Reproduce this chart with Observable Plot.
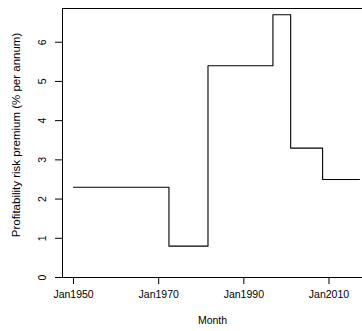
<!DOCTYPE html>
<html>
<head>
<meta charset="utf-8">
<script src="https://cdn.jsdelivr.net/npm/d3@7"></script>
<script src="https://cdn.jsdelivr.net/npm/@observablehq/plot@0.6"></script>
<style>
  html, body { margin: 0; padding: 0; background: #fff; }
  #chart svg { display: block; }
</style>
</head>
<body>
<div id="chart"></div>
<script>
// Data: regime start months and profitability risk premium (% per annum); last entry = end of series
const months = ["1950-01", "1972-06", "1981-08", "1996-11", "2001-01", "2008-07", "2017-03"];
const premium = [2.3, 0.8, 5.4, 6.7, 3.3, 2.5, 2.5];
const xTickMonths = ["1950-01", "1970-01", "1990-01", "2010-01"];
const xTickLabels = ["Jan1950", "Jan1970", "Jan1990", "Jan2010"];
const yTicks = [0, 1, 2, 3, 4, 5, 6];
const xLabel = "Month";
const yLabel = "Profitability risk premium (% per annum)";

const parse = d3.utcParse("%Y-%m");
const data = months.map((m, i) => ({date: parse(m), value: premium[i]}));
const xTicks = xTickMonths.map(parse);

const xDomain = [new Date(Date.UTC(1947, 5, 1)), new Date(Date.UTC(2017, 10, 14))];
const yDomain = [0, 6.86];
const font = "Liberation Sans, Arial, Helvetica, sans-serif";

const chart = Plot.plot({
  width: 362,
  height: 331,
  marginLeft: 62,
  marginRight: 0,
  marginTop: 8,
  marginBottom: 54,
  style: {fontFamily: font, fontSize: "10.5px", background: "#fff", color: "#000"},
  x: {type: "utc", domain: xDomain, axis: null},
  y: {domain: yDomain, axis: null},
  marks: [
    // box (top, left, bottom)
    Plot.ruleY([yDomain[1]], {stroke: "#000", strokeWidth: 1}),
    Plot.ruleY([yDomain[0]], {stroke: "#000", strokeWidth: 1}),
    Plot.ruleX([xDomain[0]], {stroke: "#000", strokeWidth: 1}),
    // x axis ticks & labels
    Plot.axisX({ticks: xTicks, tickSize: 7, tickPadding: 6,
      tickFormat: (d) => xTickLabels[xTicks.findIndex(t => +t === +d)],
      label: null, fontSize: 10.5, stroke: "#000"}),
    Plot.text([xLabel], {frameAnchor: "bottom", dy: 46, text: d => d, fontSize: 10.5, fill: "#000"}),
    // y axis ticks & labels
    Plot.axisY({ticks: yTicks, tickSize: 7, tickFormat: () => "", label: null, stroke: "#000"}),
    Plot.text(yTicks, {y: d => d, frameAnchor: "left", dx: -20, rotate: -90,
      text: d => String(d), textAnchor: "middle", lineAnchor: "middle", fontSize: 10.5, fill: "#000"}),
    Plot.text([yLabel], {frameAnchor: "left", dx: -46, dy: -8, rotate: -90, text: d => d,
      textAnchor: "middle", lineAnchor: "middle", fontSize: 11.5, fill: "#000"}),
    // step line
    Plot.line(data, {x: "date", y: "value", curve: "step-after", stroke: "#000", strokeWidth: 1.1})
  ]
});
document.getElementById("chart").appendChild(chart);
</script>
</body>
</html>
